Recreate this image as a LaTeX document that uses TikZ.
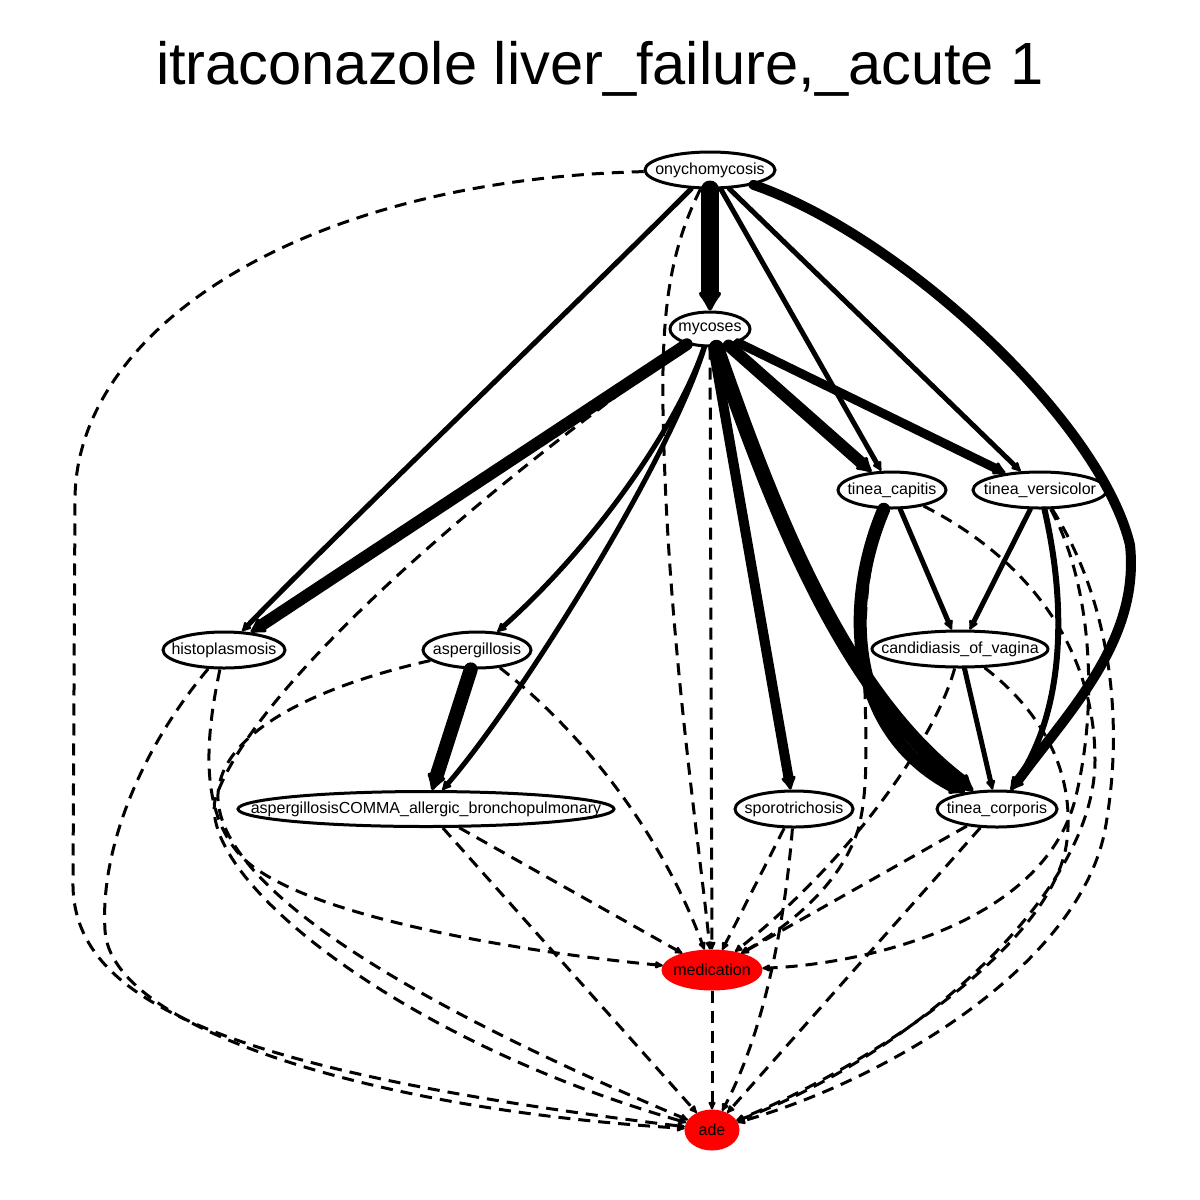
\documentclass[tikz,border=0pt]{standalone}
\usepackage{fontspec}
\setmainfont{Liberation Sans}
\usetikzlibrary{shapes.geometric,arrows.meta}

% label of zero width, so the ellipse takes its size from the style
\newcommand{\nodetext}[1]{\makebox[0pt]{#1}}

\tikzset{
  disease/.style={ellipse, draw, fill=white, line width=1.5pt, inner sep=0pt,
    minimum height=18pt, font=\fontsize{8}{9}\selectfont},
  outcome/.style={disease, draw=red, fill=red, minimum height=19pt},
  link/.style={line width=2.5pt, line cap=round,
    -{Latex[round,length=4pt 0.8,width=2.5pt 1.3]}},
  dlink/.style={line width=1.5pt, dash pattern=on 6pt off 4pt,
    -{Latex[round,length=4pt 0.8,width=2.5pt 1.3]}},
}

\begin{document}
\begin{tikzpicture}[x=0.5pt, y=-0.5pt]
        \useasboundingbox (0,0) rectangle (1200,1200);

        % Title
        \node[anchor=base, font=\fontsize{29.8}{36}\selectfont] (title) at (600,84)
            {itraconazole liver\_failure,\_acute 1};

        % The conditions, row by row
        \node[disease, minimum width=65pt] (onycho) at (710,170) {\nodetext{onychomycosis}};
        \node[disease, minimum width=40pt, minimum height=17pt] (mycoses) at (710,329) {\nodetext{mycoses}};
        \node[disease, minimum width=54pt] (tcapitis) at (892,490) {\nodetext{tinea\_capitis}};
        \node[disease, minimum width=67pt] (tversi) at (1040,490) {\nodetext{tinea\_versicolor}};
        \node[disease, minimum width=61pt] (histo) at (224,650) {\nodetext{histoplasmosis}};
        \node[disease, minimum width=54pt] (asperg) at (477,650) {\nodetext{aspergillosis}};
        \node[disease, minimum width=88pt] (candida) at (960,649) {\nodetext{candidiasis\_of\_vagina}};
        \node[disease, minimum width=188pt, minimum height=17.5pt] (abpa) at (426,809)
            {\nodetext{aspergillosisCOMMA\_allergic\_bronchopulmonary}};
        \node[disease, minimum width=59pt] (sporo) at (794,809) {\nodetext{sporotrichosis}};
        \node[disease, minimum width=60pt] (tcorporis) at (997,809) {\nodetext{tinea\_corporis}};

        % The drug and the outcome
        \node[outcome, minimum width=49pt] (medication) at (712,970) {\nodetext{medication}};
        \node[outcome, minimum width=26pt] (ade) at (712,1130) {\nodetext{ade}};

        % Solid edges, the width gives the weight
        \begin{scope}
            \draw[link, line width=9pt] (onycho) -- (mycoses);
            \draw[link] (onycho) .. controls (560,320) and (330,540) .. (histo);
            \draw[link] (onycho) -- (tcapitis);
            \draw[link] (onycho) -- (tversi);
            \draw[link, line width=5pt] (onycho) .. controls (900,235) and (1100,420) .. (1130,545)
                .. controls (1140,640) and (1070,710) .. (tcorporis);

            \draw[link, line width=6pt] (mycoses) -- (histo);
            \draw[link] (mycoses) .. controls (680,420) and (600,540) .. (asperg);
            \draw[link] (mycoses) .. controls (670,460) and (520,700) .. (abpa);
            \draw[link, line width=5pt] (mycoses) -- (sporo);
            \draw[link, line width=7.5pt] (mycoses) .. controls (770,500) and (840,690) .. (tcorporis);
            \draw[link, line width=6pt] (mycoses) -- (tcapitis);
            \draw[link, line width=4.5pt] (mycoses) -- (tversi);

            \draw[link, line width=6.5pt] (tcapitis) .. controls (845,600) and (845,730) .. (tcorporis);
            \draw[link] (tcapitis) -- (candida);
            \draw[link] (tversi) -- (candida);
            \draw[link, line width=3pt] (tversi) .. controls (1070,620) and (1060,720) .. (tcorporis);
            \draw[link, line width=7pt] (asperg) -- (abpa);
            \draw[link] (candida) -- (tcorporis);
        \end{scope}

        % Dashed edges to medication and ade
        \begin{scope}
            \draw[dlink] (onycho) .. controls (300,180) and (75,330) .. (75,500) -- (73,880)
                .. controls (70,1000) and (220,1070) .. (ade);
            \draw[dlink] (onycho) .. controls (665,260) and (660,330) .. (664,450)
                .. controls (670,650) and (700,850) .. (medication);

            \draw[dlink] (mycoses) -- (medication);
            \draw[dlink] (mycoses) .. controls (480,490) and (250,690) .. (215,800)
                .. controls (200,880) and (400,1040) .. (ade);

            \draw[dlink] (histo) .. controls (205,740) and (200,810) .. (240,855)
                .. controls (300,920) and (550,955) .. (medication);
            \draw[dlink] (histo) .. controls (140,750) and (100,850) .. (105,930)
                .. controls (110,1030) and (380,1110) .. (ade);

            \draw[dlink] (asperg) .. controls (580,730) and (660,830) .. (medication);
            \draw[dlink] (asperg) .. controls (300,690) and (215,740) .. (218,800)
                .. controls (225,900) and (450,1020) .. (ade);

            \draw[dlink] (abpa) -- (medication);
            \draw[dlink] (abpa) -- (ade);

            \draw[dlink] (sporo) -- (medication);
            \draw[dlink] (sporo) .. controls (785,920) and (765,1030) .. (ade);

            \draw[dlink] (tcapitis) .. controls (845,620) and (880,750) .. (858,830)
                .. controls (840,885) and (790,925) .. (medication);
            \draw[dlink] (tcapitis) .. controls (1030,560) and (1095,650) .. (1095,760)
                .. controls (1095,900) and (900,1060) .. (ade);

            \draw[dlink] (tversi) .. controls (1090,580) and (1100,700) .. (1075,800)
                .. controls (1040,930) and (850,965) .. (medication);
            \draw[dlink] (tversi) .. controls (1110,600) and (1125,720) .. (1105,830)
                .. controls (1080,960) and (900,1075) .. (ade);

            \draw[dlink] (candida) .. controls (935,740) and (850,860) .. (medication);
            \draw[dlink] (candida) .. controls (1040,710) and (1075,770) .. (1067,840)
                .. controls (1055,950) and (850,1075) .. (ade);

            \draw[dlink] (tcorporis) -- (medication);
            \draw[dlink] (tcorporis) -- (ade);

            \draw[dlink] (medication) -- (ade);
        \end{scope}

\end{tikzpicture}
\end{document}
